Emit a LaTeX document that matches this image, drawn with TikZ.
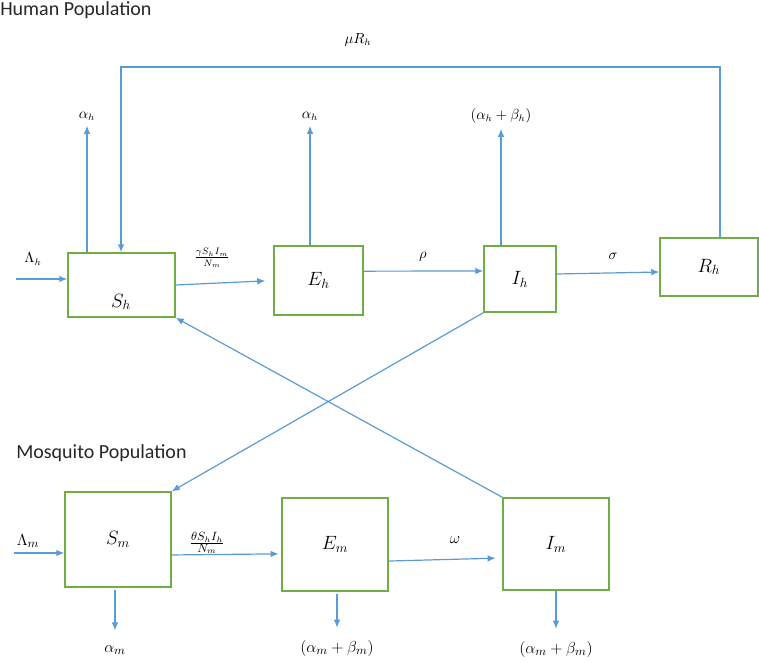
\documentclass[tikz,border=0pt]{standalone}
\usepackage{fontspec}
\newfontfamily\titlefont{Carlito}
\usetikzlibrary{arrows.meta}
\definecolor{boxgreen}{RGB}{112,173,71}
\definecolor{flowblue}{RGB}{91,155,213}
\definecolor{titlegray}{RGB}{38,38,38}
\begin{document}
\begin{tikzpicture}[x=0.75pt,y=-0.75pt,
  box/.style={draw=boxgreen,line width=1.1pt,fill=white,inner sep=0pt,font=\fontsize{14}{16}\selectfont},
  flow/.style={draw=flowblue,line width=0.9pt,-{Latex[length=6pt,width=5pt]}},
  rate/.style={font=\fontsize{10.5}{12}\selectfont,inner sep=1pt},
  ratebig/.style={font=\fontsize{13}{15}\selectfont,inner sep=1pt},
  title/.style={font=\titlefont\fontsize{15}{17}\selectfont,text=titlegray,anchor=west,inner sep=0pt}]
\useasboundingbox (0,0) rectangle (759,666);

% titles
\node[title] (hum) at (0,10) {Human Population};
\node[title] (mos) at (16,453) {Mosquito Population};

% human compartments
\node[box,minimum width=80.25pt,minimum height=48pt] (Sh) at (121.5,285) {};
\node[box,draw=none,fill=none] (ShL) at (121,302) {$S_h$};
\node[box,minimum width=66.75pt,minimum height=51.75pt] (Eh) at (318.5,280.5) {$E_h$};
\node[box,minimum width=54pt,minimum height=49.5pt] (Ih) at (520,279) {$I_h$};
\node[box,minimum width=73.5pt,minimum height=43.5pt] (Rh) at (709,267) {$R_h$};

% mosquito compartments
\node[box,minimum width=79.5pt,minimum height=71.25pt] (Sm) at (118,539.5) {$S_m$};
\node[box,minimum width=79.5pt,minimum height=69.75pt] (Em) at (335,544.5) {$E_m$};
\node[box,minimum width=79.5pt,minimum height=69pt] (Im) at (556,544) {$I_m$};

% human flows
\node[rate] (Lh) at (33,259) {$\Lambda_h$};
\coordinate (Lhin) at (16,279);
\draw[flow] (Lhin) -- (Sh.west |- Lhin);
\node[rate] (ah1) at (87,116) {$\alpha_h$};
\draw[flow,shorten >=3pt] (ah1 |- Sh.north) -- (ah1.south);
\node[rate] (ah2) at (310,116) {$\alpha_h$};
\draw[flow,shorten >=3pt] (ah2 |- Eh.north) -- (ah2.south);
\node[rate] (abh) at (501,116) {$(\alpha_h+\beta_h)$};
\draw[flow,shorten >=3pt] (abh |- Ih.north) -- (abh.south);
\node[rate] (muR) at (358,40) {$\mu R_h$};
\coordinate (rt) at (720,67);
\coordinate (lt) at (121,67);
\draw[flow] (rt |- Rh.north) -- (rt) -- (lt) -- (lt |- Sh.north);
\node[rate] (inf1) at (212,258) {$\frac{\gamma S_h I_m}{N_m}$};
\draw[flow,shorten >=6pt] (Sh.east) -- (Eh.west);
\node[rate] (rho) at (423,257) {$\rho$};
\draw[flow] ([yshift=7pt]Eh.east) -- ([yshift=6pt]Ih.west);
\node[rate] (sig) at (613,256) {$\sigma$};
\draw[flow] ([yshift=3.75pt]Ih.east) -- ([yshift=-3.75pt]Rh.west);

% cross infection
\draw[flow] (Ih.south west) -- (Sm.north east);
\draw[flow] (Im.north west) -- (Sh.south east);

% mosquito flows
\node[ratebig] (Lm) at (28,541) {$\Lambda_m$};
\coordinate (Lmin) at (14,553);
\draw[flow] (Lmin) -- (Sm.west |- Lmin);
\node[ratebig] (inf2) at (207,543) {$\frac{\theta S_h I_h}{N_m}$};
\draw[flow,shorten >=2pt] ([yshift=-11.6pt]Sm.east) -- ([yshift=-7pt]Em.west);
\node[ratebig] (om) at (455,540) {$\omega$};
\draw[flow,shorten >=5pt] ([yshift=-12.4pt]Em.east) -- ([yshift=-10.5pt]Im.west);
\node[ratebig] (am) at (115,650) {$\alpha_m$};
\draw[flow,shorten <=2pt,shorten >=10pt] (am |- Sm.south) -- (am.north);
\node[ratebig] (abm1) at (337,648) {$(\alpha_m+\beta_m)$};
\draw[flow,shorten <=2pt,shorten >=8pt] (abm1 |- Em.south) -- (abm1.north);
\node[ratebig] (abm2) at (556,649) {$(\alpha_m+\beta_m)$};
\draw[flow,shorten >=8pt] (abm2 |- Im.south) -- (abm2.north);
\end{tikzpicture}
\end{document}
